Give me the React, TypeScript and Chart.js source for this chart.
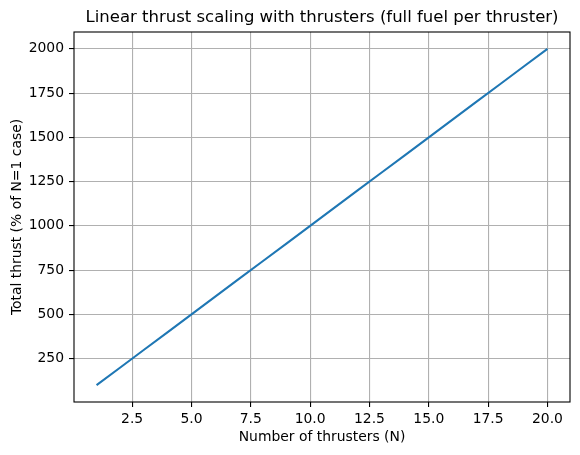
import React, { useEffect, useRef } from "react";
import { Chart, registerables } from "chart.js";

Chart.register(...registerables);

const thrusters = [1, 2, 3, 4, 5, 6, 7, 8, 9, 10, 11, 12, 13, 14, 15, 16, 17, 18, 19, 20];
const thrustPct = [100, 200, 300, 400, 500, 600, 700, 800, 900, 1000, 1100, 1200, 1300, 1400, 1500, 1600, 1700, 1800, 1900, 2000];
const xTicks = [2.5, 5.0, 7.5, 10.0, 12.5, 15.0, 17.5, 20.0];
const yTicks = [250, 500, 750, 1000, 1250, 1500, 1750, 2000];

const titleText = "Linear thrust scaling with thrusters (full fuel per thruster)";
const xLabel = "Number of thrusters (N)";
const yLabel = "Total thrust (% of N=1 case)";

const FONT = "'DejaVu Sans', sans-serif";

export default function App() {
  const ref = useRef<HTMLCanvasElement | null>(null);
  useEffect(() => {
    document.body.style.margin = "0";
    const ctx = ref.current!.getContext("2d")!;
    const framePlugin = {
      id: "frame",
      afterDraw(chart: any) {
        const c = chart.ctx;
        const a = chart.chartArea;
        c.save();
        c.strokeStyle = "#000";
        c.lineWidth = 1.1;
        c.strokeRect(a.left, a.top, a.right - a.left, a.bottom - a.top);
        c.fillStyle = "#000";
        c.textAlign = "center";
        c.textBaseline = "middle";
        c.font = `16.5px ${FONT}`;
        c.fillText(titleText, (a.left + a.right) / 2, 18);
        c.font = `13.9px ${FONT}`;
        c.fillText(xLabel, (a.left + a.right) / 2, 437);
        c.translate(17, (a.top + a.bottom) / 2);
        c.rotate(-Math.PI / 2);
        c.fillText(yLabel, 0, 0);
        c.restore();
      },
    };
    const chart = new Chart(ctx, {
      type: "line",
      data: {
        datasets: [
          {
            data: thrusters.map((n, i) => ({ x: n, y: thrustPct[i] })),
            borderColor: "#1f77b4",
            borderWidth: 2.1,
            pointRadius: 0,
            tension: 0,
            fill: false,
          },
        ],
      },
      options: {
        animation: false,
        responsive: false,
        layout: { padding: { top: 32, right: 10, left: 0, bottom: 0 } },
        plugins: { legend: { display: false }, tooltip: { enabled: false }, title: { display: false } },
        scales: {
          x: {
            type: "linear",
            min: 0.05,
            max: 20.95,
            afterBuildTicks: (s: any) => {
              s.ticks = xTicks.map((v) => ({ value: v }));
            },
            afterFit: (s: any) => {
              s.height = 53;
            },
            ticks: {
              color: "#000",
              font: { family: FONT, size: 13.9 },
              padding: 4,
              maxRotation: 0,
              callback: (v: any) => Number(v).toFixed(1),
            },
            grid: { color: "#b0b0b0", lineWidth: 1.1, tickLength: 5, tickColor: "#000", tickWidth: 1.1 },
            border: { display: false },
          },
          y: {
            type: "linear",
            min: 5,
            max: 2095,
            afterBuildTicks: (s: any) => {
              s.ticks = yTicks.map((v) => ({ value: v }));
            },
            afterFit: (s: any) => {
              s.width = 74;
            },
            ticks: {
              color: "#000",
              font: { family: FONT, size: 13.9 },
              padding: 5,
              callback: (v: any) => String(v),
            },
            grid: { color: "#b0b0b0", lineWidth: 1.1, tickLength: 5, tickColor: "#000", tickWidth: 1.1 },
            border: { display: false },
          },
        },
      },
      plugins: [framePlugin],
    });
    return () => chart.destroy();
  }, []);
  return (
    <div style={{ width: 580, height: 455 }}>
      <canvas ref={ref} width={580} height={455} style={{ display: "block" }} />
    </div>
  );
}
